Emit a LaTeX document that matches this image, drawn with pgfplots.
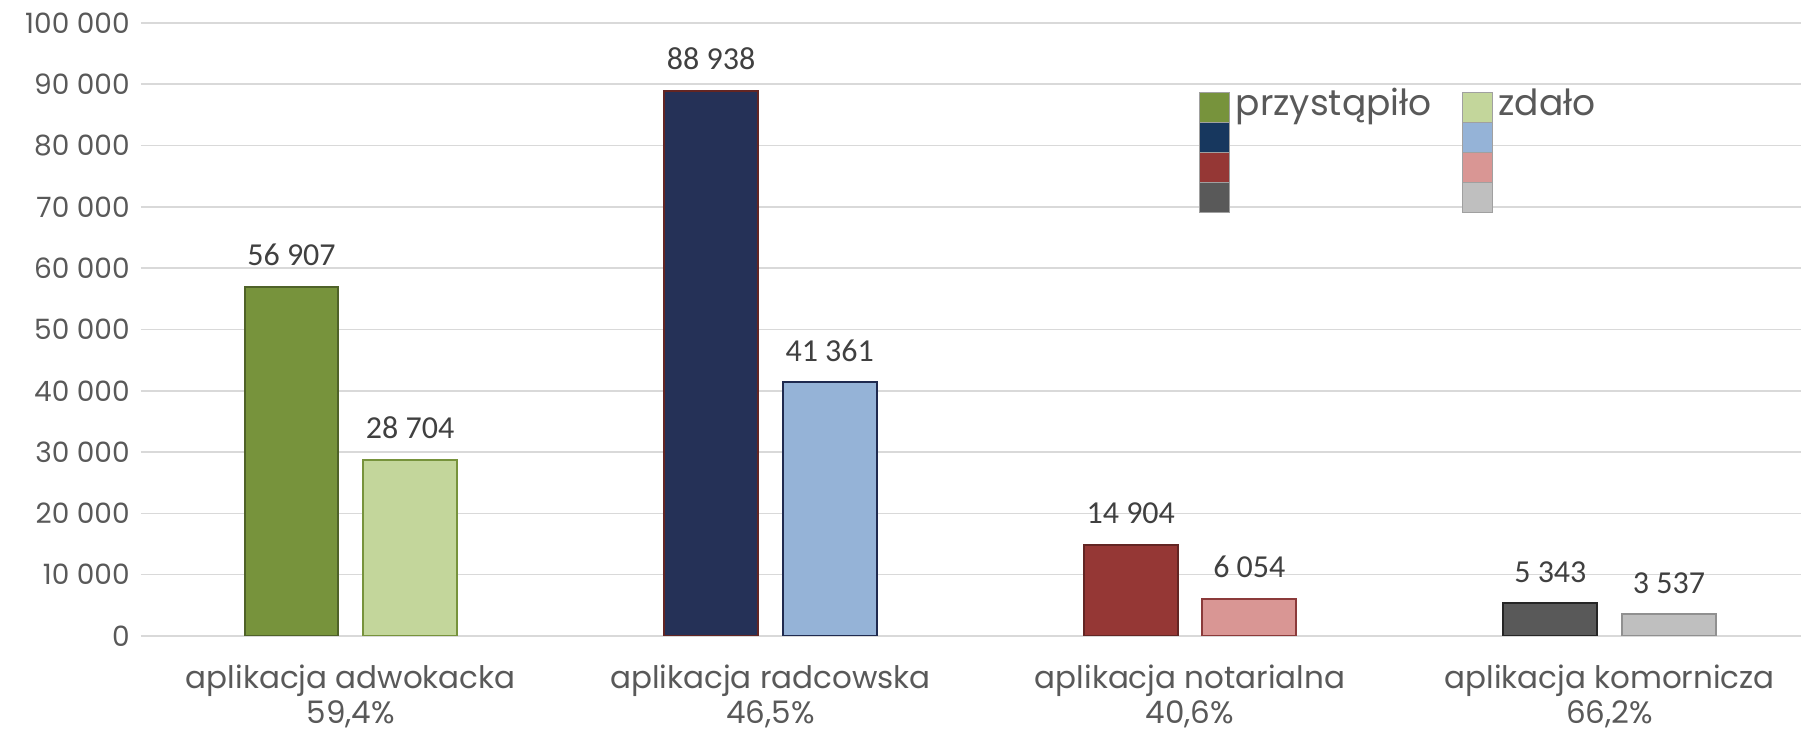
\documentclass[border=0pt]{standalone}
\usepackage{fontspec}
\setmainfont{Poppins}
\newfontfamily\calibri{Carlito}
\usepackage{pgfplots}
\pgfplotsset{compat=1.18}
\definecolor{gA}{HTML}{77933C}
\definecolor{gAd}{HTML}{4F6228}
\definecolor{gB}{HTML}{C3D69B}
\definecolor{gBd}{HTML}{77933C}
\definecolor{nA}{HTML}{253157}
\definecolor{nAd}{HTML}{632523}
\definecolor{nLeg}{HTML}{17375E}
\definecolor{bB}{HTML}{95B3D7}
\definecolor{bBd}{HTML}{1F2A4F}
\definecolor{rA}{HTML}{953735}
\definecolor{rAd}{HTML}{632523}
\definecolor{rB}{HTML}{D99694}
\definecolor{rBd}{HTML}{8B3A3A}
\definecolor{kA}{HTML}{595959}
\definecolor{kAd}{HTML}{262626}
\definecolor{kB}{HTML}{BFBFBF}
\definecolor{kBd}{HTML}{909090}
\definecolor{legb}{HTML}{A0A0A0}
\definecolor{labgray}{HTML}{595959}
\definecolor{datgray}{HTML}{404040}
\definecolor{gridgray}{HTML}{D9D9D9}
\begin{document}
\begin{tikzpicture}
\begin{axis}[
  at={(0,0)}, anchor=south west,
  scale only axis, width=830pt, height=306.5pt,
  xmin=-0.5, xmax=3.456, ymin=0, ymax=100000,
  ybar, bar width=46.9pt,
  scaled y ticks=false,
  ytick={0,10000,20000,30000,40000,50000,60000,70000,80000,90000,100000},
  yticklabels={0,10 000,20 000,30 000,40 000,50 000,60 000,70 000,80 000,90 000,100 000},
  xtick={0,1,2,3},
  xticklabels={{aplikacja adwokacka\\59,4\%},{aplikacja radcowska\\46,5\%},{aplikacja notarialna\\40,6\%},{aplikacja komornicza\\66,2\%}},
  ymajorgrids, grid style={draw=gridgray, line width=0.8pt},
  axis line style={draw=none}, major tick style={draw=none},
  yticklabel style={font=\fontsize{14}{16}\selectfont, text=labgray, inner sep=0pt, anchor=east, xshift=-5.5pt},
  xticklabel style={align=center, font=\fontsize{15.5}{17.5}\selectfont, text=labgray, anchor=north, inner sep=0pt, yshift=-10pt},
  point meta=explicit symbolic,
  nodes near coords={\pgfplotspointmeta},
  every node near coord/.append style={font=\calibri\fontsize{16}{19}\selectfont, text=datgray, anchor=south, inner sep=0pt, yshift=10pt},
  legend columns=2,
  legend style={at={(0.6373,0.8933)}, anchor=north west, draw=none, fill=none, inner sep=0pt, outer sep=0pt,
    font=\fontsize{18}{21}\selectfont, text=labgray, nodes={inner sep=0pt, yshift=1.5pt},
    column sep=3pt, /tikz/every even column/.append style={column sep=15pt}},
]
\addplot[forget plot, bar shift=-29.65pt, fill=gA, draw=gAd, line width=1pt] coordinates {(0,56907) [56 907]};
\addplot[forget plot, bar shift=29.65pt, fill=gB, draw=gBd, line width=1pt] coordinates {(0,28704) [28 704]};
\addplot[forget plot, bar shift=-29.65pt, fill=nA, draw=nAd, line width=1pt] coordinates {(1,88938) [88 938]};
\addplot[forget plot, bar shift=29.65pt, fill=bB, draw=bBd, line width=1pt] coordinates {(1,41361) [41 361]};
\addplot[forget plot, bar shift=-29.65pt, fill=rA, draw=rAd, line width=1pt] coordinates {(2,14904) [14 904]};
\addplot[forget plot, bar shift=29.65pt, fill=rB, draw=rBd, line width=1pt] coordinates {(2,6054) [6 054]};
\addplot[forget plot, bar shift=-29.65pt, fill=kA, draw=kAd, line width=1pt] coordinates {(3,5343) [5 343]};
\addplot[forget plot, bar shift=29.65pt, fill=kB, draw=kBd, line width=1pt] coordinates {(3,3537) [3 537]};
\addlegendimage{legend image code/.code={
  \draw[draw=legb, fill=gA] (0pt,-8pt) rectangle (15pt,7pt);
  \draw[overlay, draw=legb, fill=nLeg] (0pt,-23pt) rectangle (15pt,-8pt);
  \draw[overlay, draw=legb, fill=rA] (0pt,-38pt) rectangle (15pt,-23pt);
  \draw[overlay, draw=legb, fill=kA] (0pt,-53pt) rectangle (15pt,-38pt);
}}
\addlegendentry{przystąpiło}
\addlegendimage{legend image code/.code={
  \draw[draw=legb, fill=gB] (0pt,-8pt) rectangle (15pt,7pt);
  \draw[overlay, draw=legb, fill=bB] (0pt,-23pt) rectangle (15pt,-8pt);
  \draw[overlay, draw=legb, fill=rB] (0pt,-38pt) rectangle (15pt,-23pt);
  \draw[overlay, draw=legb, fill=kB] (0pt,-53pt) rectangle (15pt,-38pt);
}}
\addlegendentry{zdało}
\end{axis}
\pgfresetboundingbox
\path (-70.5pt,-48pt) rectangle (837.5pt,318pt);
\end{tikzpicture}
\end{document}
